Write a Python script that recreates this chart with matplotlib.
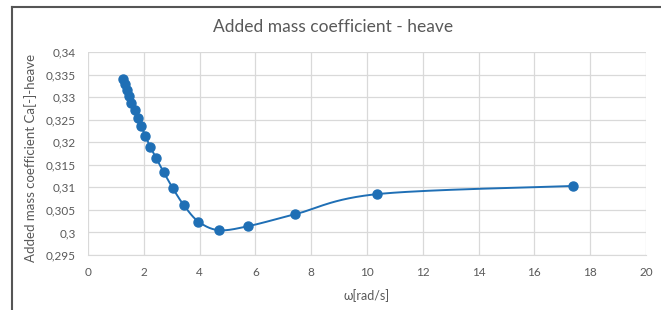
import numpy as np
import matplotlib
matplotlib.use("Agg")
from matplotlib import pyplot as plt
from matplotlib.ticker import FuncFormatter, MultipleLocator
from matplotlib.lines import Line2D

plt.rcParams['font.family'] = ['Lato', 'DejaVu Sans']

title = 'Added mass coefficient - heave'
xlabel = 'ω[rad/s]'
ylabel = 'Added mass coefficient Ca[-]-heave'

omega = [1.25, 1.32, 1.39, 1.46, 1.55, 1.67, 1.78, 1.91, 2.06, 2.23,
         2.45, 2.71, 3.04, 3.44, 3.96, 4.69, 5.75, 7.41, 10.37, 17.38]
ca = [0.3340, 0.3328, 0.3315, 0.3302, 0.3287, 0.3271, 0.3254, 0.3235, 0.3213, 0.3190,
      0.3164, 0.3134, 0.3098, 0.3060, 0.3024, 0.3005, 0.3014, 0.3040, 0.3085, 0.3103]

blue = '#1f6fb5'
grey = '#595959'


def smooth(x, y, n=30):
    # Excel-like smoothed line: bezier with control points from neighbours
    x = np.asarray(x, float)
    y = np.asarray(y, float)
    px = np.concatenate([[x[0]], x, [x[-1]]])
    py = np.concatenate([[y[0]], y, [y[-1]]])
    xs, ys = [], []
    t = np.linspace(0, 1, n)
    for i in range(1, len(px) - 2):
        p0 = np.array([px[i], py[i]])
        p3 = np.array([px[i + 1], py[i + 1]])
        c1 = p0 + (np.array([px[i + 1], py[i + 1]]) - np.array([px[i - 1], py[i - 1]])) / 6
        c2 = p3 - (np.array([px[i + 2], py[i + 2]]) - np.array([px[i], py[i]])) / 6
        b = ((1 - t) ** 3)[:, None] * p0 + (3 * (1 - t) ** 2 * t)[:, None] * c1 \
            + (3 * (1 - t) * t ** 2)[:, None] * c2 + (t ** 3)[:, None] * p3
        xs.extend(b[:, 0])
        ys.extend(b[:, 1])
    return xs, ys


fig = plt.figure(figsize=(6.61, 3.10), dpi=100)
ax = fig.add_axes([88 / 661, 1 - 255 / 310, (646 - 88) / 661, (255 - 52) / 310])

sx, sy = smooth(omega, ca)
ax.plot(sx, sy, color=blue, lw=1.4, zorder=3)
ax.plot(omega, ca, 'o', color=blue, ms=6.5, zorder=4)

ax.set_xlim(0, 20)
ax.set_ylim(0.295, 0.34)
ax.xaxis.set_major_locator(MultipleLocator(2))
ax.yaxis.set_major_locator(MultipleLocator(0.005))
ax.yaxis.set_major_formatter(FuncFormatter(lambda v, p: f'{round(v, 3):g}'.replace('.', ',')))
ax.xaxis.set_major_formatter(FuncFormatter(lambda v, p: f'{v:g}'))
ax.grid(True, color='#d9d9d9', lw=0.9)
ax.set_axisbelow(True)
for s in ['top', 'right', 'left']:
    ax.spines[s].set_visible(False)
ax.spines['bottom'].set_color('#d9d9d9')
ax.tick_params(length=0, labelsize=8.5, colors=grey)
ax.tick_params(axis='y', pad=9)
ax.tick_params(axis='x', pad=9)

fig.text(333 / 661, 1 - 27 / 310, title, ha='center', va='center', fontsize=12.5, color=grey)
fig.text(367 / 661, 1 - 296 / 310, xlabel, ha='center', va='center', fontsize=9, color=grey)
fig.text(31 / 661, 1 - 158 / 310, ylabel, ha='center', va='center', rotation=90,
         fontsize=9.5, color=grey)

# chart frame (only top and left visible in the crop)
fig.add_artist(Line2D([12 / 661, 1], [1 - 7 / 310, 1 - 7 / 310], color='#555555', lw=1.5,
                      transform=fig.transFigure))
fig.add_artist(Line2D([12 / 661, 12 / 661], [0, 1 - 7 / 310], color='#555555', lw=1.5,
                      transform=fig.transFigure))

fig.savefig('out.png', dpi=100)
